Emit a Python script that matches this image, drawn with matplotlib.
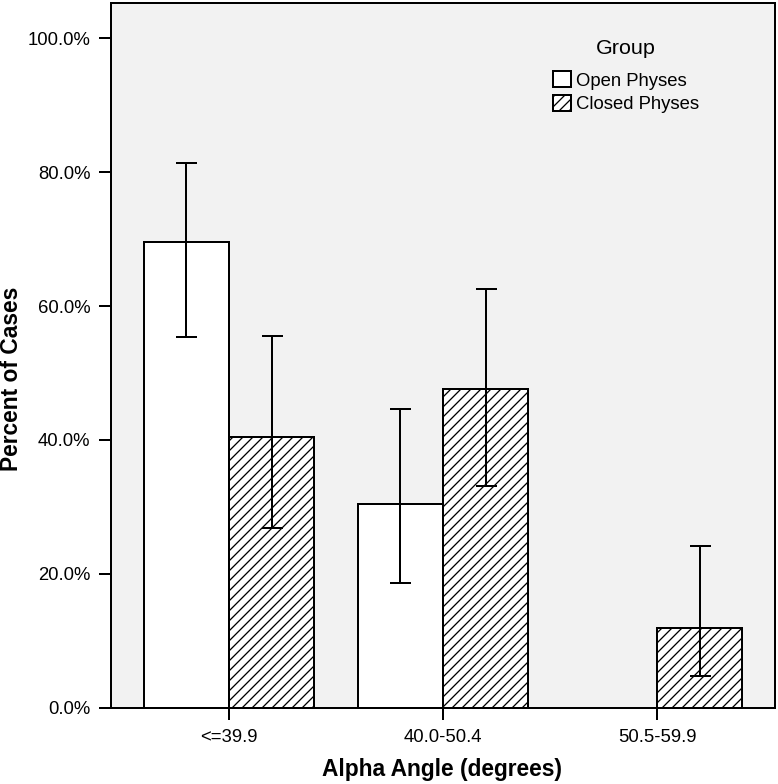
import numpy as np
import matplotlib
matplotlib.use("Agg")
import matplotlib.pyplot as plt
from matplotlib.ticker import FuncFormatter

categories = ['<=39.9', '40.0-50.4', '50.5-59.9']
groups = ['Open Physes', 'Closed Physes']
open_pct = [69.6, 30.4, 0.0]
open_lo = [55.4, 18.7, np.nan]
open_hi = [81.4, 44.6, np.nan]
closed_pct = [40.5, 47.6, 11.9]
closed_lo = [26.8, 33.1, 4.7]
closed_hi = [55.6, 62.5, 24.2]
yticks = [0, 20, 40, 60, 80, 100]

DPI = 120
W, H = 778, 784
def pt(px):
    return px * 72.0 / DPI

plt.rcParams['font.family'] = ['Liberation Sans', 'DejaVu Sans']
plt.rcParams['hatch.linewidth'] = pt(1.3)
plt.rcParams['hatch.color'] = 'black'

fig = plt.figure(figsize=(W / DPI, H / DPI), dpi=DPI)
fig.patch.set_facecolor('white')
left, right, top, bottom = 111, 775, 3, 707.7
ax = fig.add_axes([left / W, (H - bottom) / H, (right - left) / W, (bottom - top) / H])
ax.set_facecolor('#f2f2f2')

x = np.arange(len(categories))
w = 0.398
lw = pt(2)
b1 = ax.bar(x - w / 2, open_pct, w, color='white', edgecolor='black', linewidth=lw,
            label=groups[0], zorder=2)
b2 = ax.bar(x + w / 2, closed_pct, w, color='white', edgecolor='black', linewidth=lw,
            hatch='////', label=groups[1], zorder=2)

op = np.array(open_pct); cp = np.array(closed_pct)
oerr = np.vstack([op - np.array(open_lo), np.array(open_hi) - op])
cerr = np.vstack([cp - np.array(closed_lo), np.array(closed_hi) - cp])
cap = pt(21) / 2
ax.errorbar(x - w / 2, op, yerr=oerr, fmt='none', ecolor='black', elinewidth=lw,
            capsize=cap, capthick=lw, zorder=3)
ax.errorbar(x + w / 2, cp, yerr=cerr, fmt='none', ecolor='black', elinewidth=lw,
            capsize=cap, capthick=lw, zorder=3)

ax.set_xlim(-0.551, 2.551)
ax.set_ylim(0, 105.27)
ax.set_xticks(x)
ax.set_xticklabels(categories)
ax.set_yticks(yticks)
ax.yaxis.set_major_formatter(FuncFormatter(lambda v, p: f"{v:.1f}%"))
ax.tick_params(axis='both', direction='out', length=pt(12), width=lw, labelsize=pt(18.5),
               colors='black')
ax.tick_params(axis='y', pad=pt(8.6))
ax.tick_params(axis='x', pad=pt(9))
for s in ax.spines.values():
    s.set_linewidth(lw)
    s.set_color('black')

fig.text(442 / W, (H - 776) / H, 'Alpha Angle (degrees)', ha='center', va='baseline',
         fontsize=pt(22.8), fontweight='bold')
fig.text(12 / W, (H - 379) / H, 'Percent of Cases', ha='center', va='center',
         rotation=90, fontsize=pt(22.8), fontweight='bold')

leg = ax.legend(handles=[b1, b2], labels=groups, title='Group', loc='upper left',
                bbox_to_anchor=(553 / W, (H - 39) / H), bbox_transform=fig.transFigure,
                frameon=False, fontsize=pt(18.5), title_fontsize=pt(21.5),
                handlelength=0.97, handleheight=0.95, handletextpad=0.3,
                labelspacing=0.29, borderpad=0, borderaxespad=0)
leg._legend_box.sep = pt(13.4)

fig.savefig('out.png', dpi=DPI)
